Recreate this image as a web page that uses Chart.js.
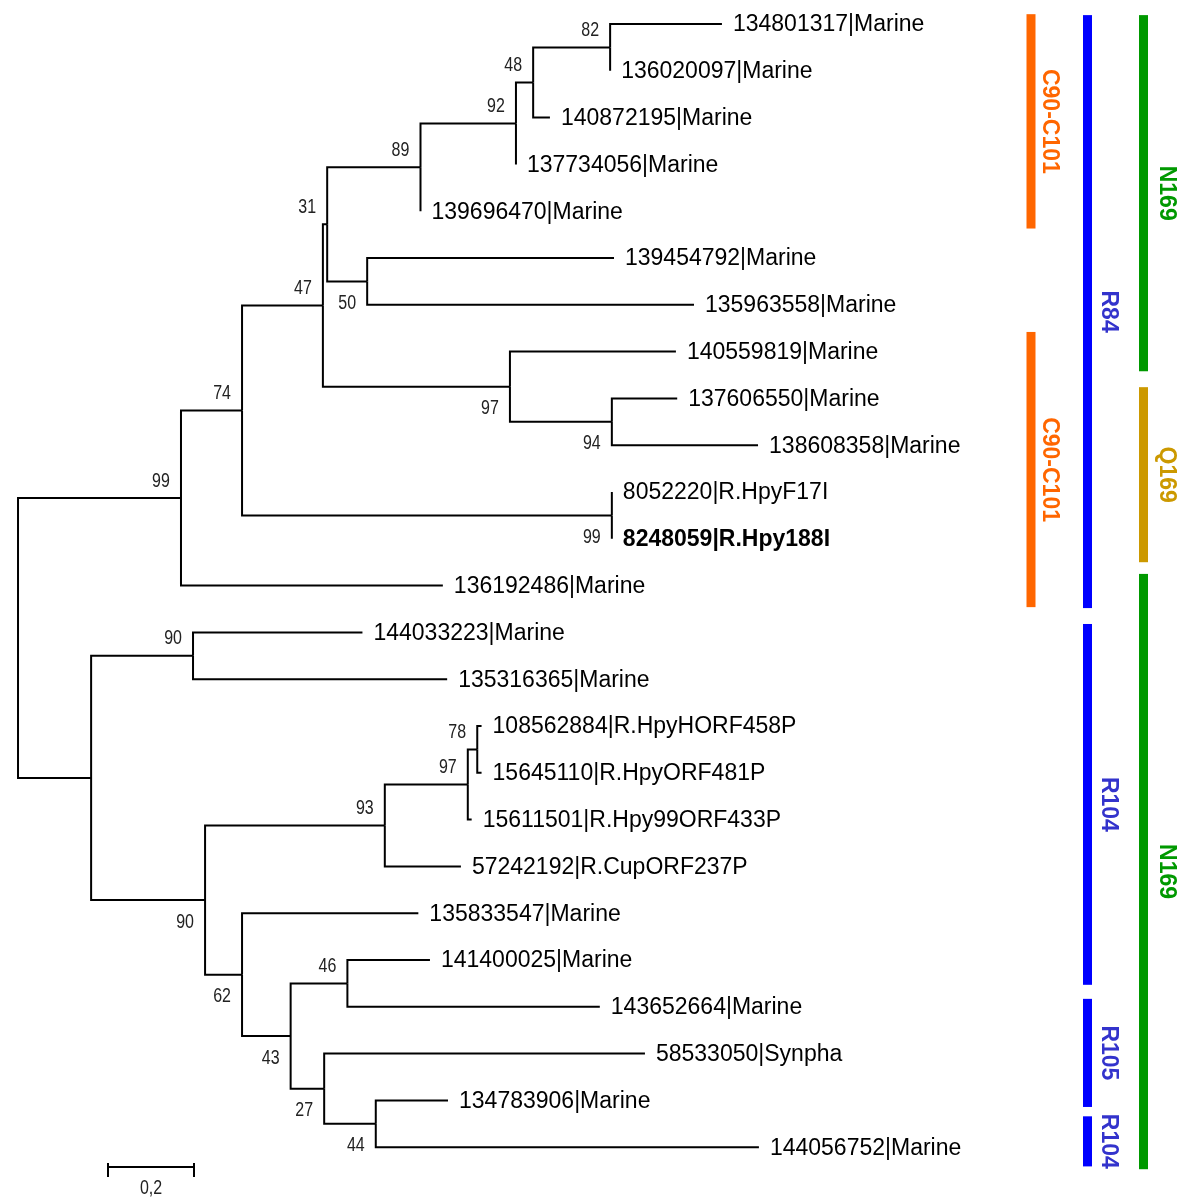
<!DOCTYPE html>
<html>
<head>
<meta charset="utf-8">
<script src="https://cdn.jsdelivr.net/npm/chart.js@4.4.1/dist/chart.umd.min.js"></script>
<style>
  html, body { margin: 0; padding: 0; background: #fff; }
  #wrap { width: 1200px; height: 1200px; }
</style>
</head>
<body>
<div id="wrap"><canvas id="tree" width="1200" height="1200"></canvas></div>
<script>
// leaves, top to bottom (row = index)
const leafNames = [
    '134801317|Marine', '136020097|Marine', '140872195|Marine', '137734056|Marine',
    '139696470|Marine', '139454792|Marine', '135963558|Marine', '140559819|Marine',
    '137606550|Marine', '138608358|Marine', '8052220|R.HpyF17I', '8248059|R.Hpy188I',
    '136192486|Marine', '144033223|Marine', '135316365|Marine', '108562884|R.HpyHORF458P',
    '15645110|R.HpyORF481P', '15611501|R.Hpy99ORF433P', '57242192|R.CupORF237P', '135833547|Marine',
    '141400025|Marine', '143652664|Marine', '58533050|Synpha', '134783906|Marine',
    '144056752|Marine'
];
// distance of each leaf from the root
const leafDepth = [
    1.637, 1.377, 1.237, 1.158, 0.936, 1.386, 1.572, 1.530, 1.533, 1.721,
    1.381, 1.381, 0.988, 0.801, 0.998, 1.078, 1.078, 1.055, 1.030, 0.931,
    0.958, 1.353, 1.458, 1.000, 1.723
];

// internal nodes, numbered after the leaves (25, 26, ...), children first
const nodeChildren = [
    [0, 1], [25, 2], [26, 3], [27, 4], [5, 6], [28, 29], [8, 9], [7, 31],
    [30, 32], [10, 11], [33, 34], [35, 12], [13, 14], [15, 16], [38, 17], [39, 18],
    [20, 21], [23, 24], [22, 42], [41, 43], [19, 44], [40, 45], [37, 46], [36, 47]
];
const nodeDepth = [
    1.377, 1.198, 1.158, 0.936, 0.812, 0.719, 1.381, 1.144,
    0.709, 1.381, 0.521, 0.379, 0.407, 1.068, 1.046, 0.853,
    0.766, 0.832, 0.712, 0.634, 0.521, 0.435, 0.170, 0
];
const nodeSupport = [
    82, 48, 92, 89, 50, 31, 94, 97,
    47, 99, 74, 99, 90, 78, 97, 93,
    46, 44, 27, 43, 62, 90, null, null
];

// coloured clade bars on the right, start/end in leaf rows
const cladeNames = ['C90-C101', 'C90-C101', 'R84', 'R104', 'R105', 'R104', 'N169', 'Q169', 'N169'];
const cladeStart = [-0.21, 6.58, -0.19, 12.82, 20.83, 23.34, -0.19, 7.76, 11.75];
const cladeEnd = [4.37, 12.46, 12.48, 20.53, 23.14, 24.41, 7.42, 11.50, 24.47];
const cladeColumn = [0, 0, 1, 1, 1, 1, 2, 2, 2];

const scaleBarLength = 0.2;
const scaleBarLabel = '0,2';

// style
const boldLeaves = [11];
const supportBelow = [4, 6, 7, 9, 17, 18, 19, 20, 21];
const columnX = [1031, 1087.5, 1143.5];
const columnTextX = [1049, 1108.5, 1166];
const barFill = ['#ff6600', '#ff6600', '#0000ff', '#0000ff', '#0000ff', '#0000ff', '#009900', '#cc9900', '#009900'];
const barText = ['#ff6600', '#ff6600', '#3333cc', '#3333cc', '#3333cc', '#3333cc', '#009900', '#cc9900', '#009900'];

const nLeaves = leafNames.length;
const posX = [], posY = [];
leafDepth.forEach((d, i) => { posX[i] = d; posY[i] = i; });
nodeChildren.forEach((kids, k) => {
    const id = nLeaves + k;
    posX[id] = nodeDepth[k];
    posY[id] = (posY[kids[0]] + posY[kids[kids.length - 1]]) / 2;
});

const datasets = [];
nodeChildren.forEach((kids, k) => {
    const id = nLeaves + k;
    kids.forEach(c => {
        datasets.push({
            data: [
                {x: posX[id], y: posY[id]},
                {x: posX[id], y: posY[c]},
                {x: posX[c], y: posY[c]}
            ],
            showLine: true,
            borderColor: '#000',
            borderWidth: 2,
            pointRadius: 0,
            fill: false,
            clip: false
        });
    });
});

const smallFont = '20px "Liberation Sans", Arial, sans-serif';

const treeText = {
    id: 'treeText',
    afterDatasetsDraw(chart) {
        const ctx = chart.ctx;
        const sx = chart.scales.x;
        const sy = chart.scales.y;
        ctx.save();

        // leaf names
        ctx.textAlign = 'left';
        ctx.textBaseline = 'middle';
        ctx.fillStyle = '#000';
        leafNames.forEach((name, i) => {
            ctx.font = (boldLeaves.includes(i) ? 'bold ' : '') + '23px "Liberation Sans", Arial, sans-serif';
            ctx.fillText(name, sx.getPixelForValue(leafDepth[i]) + 11, sy.getPixelForValue(i) + 1);
        });

        // bootstrap values
        ctx.fillStyle = '#222';
        ctx.font = smallFont;
        ctx.textAlign = 'center';
        nodeSupport.forEach((v, k) => {
            if (v === null) return;
            const id = nLeaves + k;
            const px = sx.getPixelForValue(posX[id]) - 20;
            const py = sy.getPixelForValue(posY[id]) + (supportBelow.includes(k) ? 22 : -17);
            ctx.save();
            ctx.translate(px, py);
            ctx.scale(0.8, 1);
            ctx.fillText(String(v), 0, 0);
            ctx.restore();
        });

        // clade bars
        cladeNames.forEach((name, j) => {
            const top = sy.getPixelForValue(cladeStart[j]);
            const bot = sy.getPixelForValue(cladeEnd[j]);
            const col = cladeColumn[j];
            ctx.fillStyle = barFill[j];
            ctx.fillRect(columnX[col] - 4.5, top, 9, bot - top);
            ctx.save();
            ctx.translate(columnTextX[col], (top + bot) / 2);
            ctx.rotate(Math.PI / 2);
            ctx.fillStyle = barText[j];
            ctx.font = 'bold 23px "Liberation Sans", Arial, sans-serif';
            ctx.textAlign = 'center';
            ctx.textBaseline = 'middle';
            ctx.fillText(name, 0, 0);
            ctx.restore();
        });

        // scale bar
        const len = sx.getPixelForValue(scaleBarLength) - sx.getPixelForValue(0);
        const x0 = 108, yb = 1167;
        ctx.strokeStyle = '#000';
        ctx.lineWidth = 2;
        ctx.beginPath();
        ctx.moveTo(x0, yb);
        ctx.lineTo(x0 + len, yb);
        ctx.moveTo(x0, yb - 4);
        ctx.lineTo(x0, yb + 10);
        ctx.moveTo(x0 + len, yb - 4);
        ctx.lineTo(x0 + len, yb + 10);
        ctx.stroke();
        ctx.fillStyle = '#222';
        ctx.save();
        ctx.translate(x0 + len / 2, 1188);
        ctx.scale(0.8, 1);
        ctx.fillText(scaleBarLabel, 0, 0);
        ctx.restore();

        ctx.restore();
    }
};

new Chart(document.getElementById('tree'), {
    type: 'scatter',
    data: { datasets: datasets },
    options: {
        responsive: false,
        animation: false,
        devicePixelRatio: 1,
        layout: { padding: 0 },
        plugins: { legend: { display: false }, tooltip: { enabled: false } },
        scales: {
            x: { type: 'linear', display: false, min: -0.0419, max: 2.7488 },
            y: { type: 'linear', display: false, reverse: true, min: -0.513, max: 25.128 }
        }
    },
    plugins: [treeText]
});
</script>
</body>
</html>
